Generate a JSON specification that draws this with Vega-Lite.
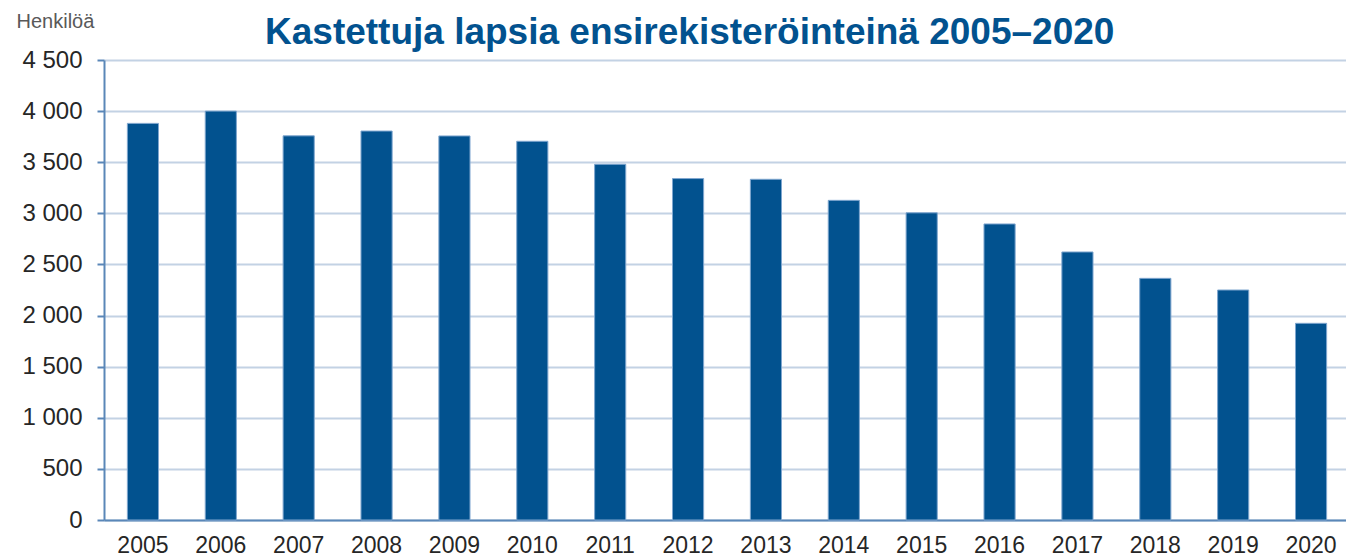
{
  "$schema": "https://vega.github.io/schema/vega-lite/v6.json",
  "autosize": {"type": "none"},
  "width": 1246,
  "height": 460,
  "padding": {"left": 104, "top": 60, "right": 0, "bottom": 40},
  "background": "white",
  "title": {
    "text": "Kastettuja lapsia ensirekisteröinteinä 2005–2020",
    "anchor": "start",
    "frame": "group",
    "dx": 161,
    "dy": 84,
    "offset": 14,
    "baseline": "alphabetic",
    "font": "Liberation Sans",
    "fontSize": 37,
    "fontWeight": "bold",
    "color": "#02528f"
  },
  "data": {
    "values": [
      {"vuosi": "2005", "henkiloa": 3880},
      {"vuosi": "2006", "henkiloa": 4000},
      {"vuosi": "2007", "henkiloa": 3758},
      {"vuosi": "2008", "henkiloa": 3805},
      {"vuosi": "2009", "henkiloa": 3757},
      {"vuosi": "2010", "henkiloa": 3705},
      {"vuosi": "2011", "henkiloa": 3480},
      {"vuosi": "2012", "henkiloa": 3340},
      {"vuosi": "2013", "henkiloa": 3333},
      {"vuosi": "2014", "henkiloa": 3127},
      {"vuosi": "2015", "henkiloa": 3005},
      {"vuosi": "2016", "henkiloa": 2896},
      {"vuosi": "2017", "henkiloa": 2622},
      {"vuosi": "2018", "henkiloa": 2364},
      {"vuosi": "2019", "henkiloa": 2250},
      {"vuosi": "2020", "henkiloa": 1924}
    ]
  },
  "mark": {"type": "bar", "color": "#02528f", "stroke": "#7fa6cf", "strokeWidth": 1},
  "encoding": {
    "x": {
      "field": "vuosi",
      "type": "ordinal",
      "scale": {"paddingInner": 0.6, "paddingOuter": 0.3},
      "axis": {
        "title": null,
        "labelAngle": 0,
        "ticks": false,
        "domainColor": "#5a87b8",
        "domainWidth": 2,
        "labelFont": "Liberation Sans",
        "labelFontSize": 23,
        "labelColor": "#262626",
        "labelPadding": 14
      }
    },
    "y": {
      "field": "henkiloa",
      "type": "quantitative",
      "scale": {"domain": [0, 4500], "nice": false},
      "axis": {
        "values": [0, 500, 1000, 1500, 2000, 2500, 3000, 3500, 4000, 4500],
        "labelExpr": "replace(format(datum.value, ','), ',', ' ')",
        "title": "Henkilöä",
        "titleAngle": 0,
        "titleAlign": "left",
        "titleBaseline": "alphabetic",
        "titleX": -88,
        "titleY": -33,
        "titleFont": "Liberation Sans",
        "titleFontSize": 20,
        "titleFontWeight": "normal",
        "titleColor": "#595959",
        "labelFont": "Liberation Sans",
        "labelFontSize": 24,
        "labelColor": "#262626",
        "labelPadding": 15,
        "tickSize": 7,
        "tickColor": "#5a87b8",
        "tickWidth": 2,
        "domainColor": "#5a87b8",
        "domainWidth": 2,
        "grid": true,
        "gridColor": "#c3d2e4",
        "gridWidth": 2
      }
    }
  },
  "config": {"view": {"stroke": null}}
}
